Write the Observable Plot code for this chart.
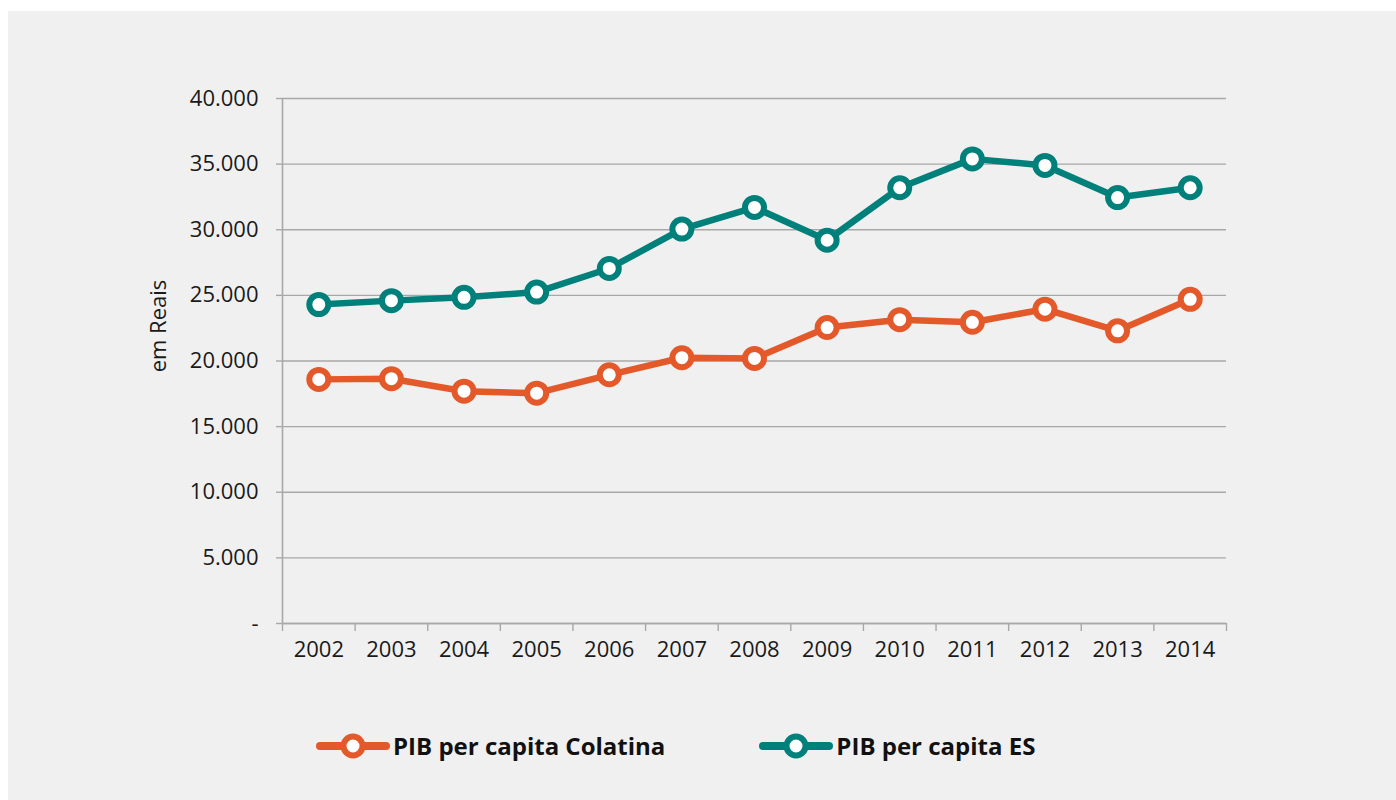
<!DOCTYPE html>
<html>
<head>
<meta charset="utf-8">
<script src="https://cdn.jsdelivr.net/npm/d3@7"></script>
<script src="https://cdn.jsdelivr.net/npm/@observablehq/plot@0.6"></script>
<style>
  html, body { margin: 0; padding: 0; background: #ffffff; }
  body { width: 1396px; height: 800px; overflow: hidden; position: relative; font-family: "Open Sans", sans-serif; }
  #panel { position: absolute; left: 8px; top: 11px; width: 1388px; height: 789px; background: #f0f0f0; }
  #chart { position: absolute; left: 0; top: 0; }
  #legend { position: absolute; left: 308px; top: 718px; display: flex; align-items: center; font-weight: 700; font-size: 24px; color: #111; }
  .item { display: flex; align-items: center; }
  .item svg { display: block; margin-right: 3px; }
</style>
</head>
<body>
<div id="panel">
  <div id="chart"></div>
  <div id="legend"></div>
</div>
<script>
const years = [2002, 2003, 2004, 2005, 2006, 2007, 2008, 2009, 2010, 2011, 2012, 2013, 2014];
const colatina = [18600, 18650, 17700, 17550, 18950, 20250, 20200, 22550, 23150, 22950, 23950, 22300, 24700];
const es = [24300, 24600, 24850, 25250, 27050, 30050, 31700, 29200, 33200, 35400, 34900, 32450, 33200];
const seriesNames = ["PIB per capita Colatina", "PIB per capita ES"];
const seriesColors = ["#e4592a", "#00807a"];
const yTicks = [0, 5000, 10000, 15000, 20000, 25000, 30000, 35000, 40000];
const yLabel = "em Reais";

const data = [];
years.forEach((yr, i) => {
  data.push({year: yr, value: colatina[i], series: seriesNames[0]});
  data.push({year: yr, value: es[i], series: seriesNames[1]});
});

const locale = d3.formatLocale({decimal: ",", thousands: ".", grouping: [3], currency: ["R$", ""]});
const fmt = locale.format(",.0f");
const boundaries = years.map(y => y - 0.5).concat([years[years.length - 1] + 0.5]);
const gridColor = "#a8a8a8";

const plot = Plot.plot({
  width: 1388,
  height: 700,
  marginLeft: 274,
  marginRight: 170,
  marginTop: 87,
  marginBottom: 88,
  style: {background: "transparent", fontFamily: "'Open Sans', sans-serif", fontSize: "22px", color: "#1a1a1a", overflow: "visible"},
  x: {type: "linear", domain: [years[0] - 0.5, years[years.length - 1] + 0.5]},
  y: {domain: [0, 40000]},
  color: {domain: seriesNames, range: seriesColors},
  marks: [
    Plot.gridY(yTicks, {stroke: gridColor, strokeOpacity: 1, strokeWidth: 1.4}),
    Plot.axisY(yTicks, {tickSize: 6, tickPadding: 18, stroke: gridColor, strokeWidth: 1.4, tickFormat: d => d === 0 ? "-" : fmt(d), label: null, fontSize: 22, fill: "#1a1a1a"}),
    Plot.ruleX([years[0] - 0.5], {stroke: gridColor, strokeWidth: 1.6}),
    Plot.ruleY([0], {stroke: gridColor, strokeWidth: 1.6}),
    Plot.axisX(boundaries, {tickSize: 8, tickFormat: () => "", stroke: gridColor, strokeWidth: 1.4, label: null}),
    Plot.axisX(years, {tickSize: 0, tickPadding: 18, tickFormat: d => String(d), label: null, fontSize: 22, fill: "#1a1a1a"}),
    Plot.text([yLabel], {frameAnchor: "left", textAnchor: "middle", dx: -124, dy: -35, rotate: -90, fontSize: 22, fill: "#1a1a1a"}),
    Plot.line(data, {x: "year", y: "value", z: "series", stroke: "series", strokeWidth: 6.5, strokeLinejoin: "round", strokeLinecap: "round"}),
    Plot.dot(data, {x: "year", y: "value", stroke: "series", fill: "#ffffff", r: 9.5, strokeWidth: 6})
  ]
});
document.getElementById("chart").appendChild(plot);

const legend = document.getElementById("legend");
seriesNames.forEach((name, i) => {
  const item = document.createElement("div");
  item.className = "item";
  if (i > 0) item.style.marginLeft = "94px";
  const ns = "http://www.w3.org/2000/svg";
  const svg = document.createElementNS(ns, "svg");
  svg.setAttribute("width", "74");
  svg.setAttribute("height", "30");
  const line = document.createElementNS(ns, "line");
  line.setAttribute("x1", "4"); line.setAttribute("x2", "70");
  line.setAttribute("y1", "15"); line.setAttribute("y2", "15");
  line.setAttribute("stroke", seriesColors[i]);
  line.setAttribute("stroke-width", "8");
  line.setAttribute("stroke-linecap", "round");
  svg.appendChild(line);
  const c = document.createElementNS(ns, "circle");
  c.setAttribute("cx", "37"); c.setAttribute("cy", "15"); c.setAttribute("r", "9.5");
  c.setAttribute("fill", "#ffffff");
  c.setAttribute("stroke", seriesColors[i]);
  c.setAttribute("stroke-width", "6");
  svg.appendChild(c);
  item.appendChild(svg);
  const t = document.createElement("span");
  t.textContent = name;
  item.appendChild(t);
  legend.appendChild(item);
});
</script>
</body>
</html>
